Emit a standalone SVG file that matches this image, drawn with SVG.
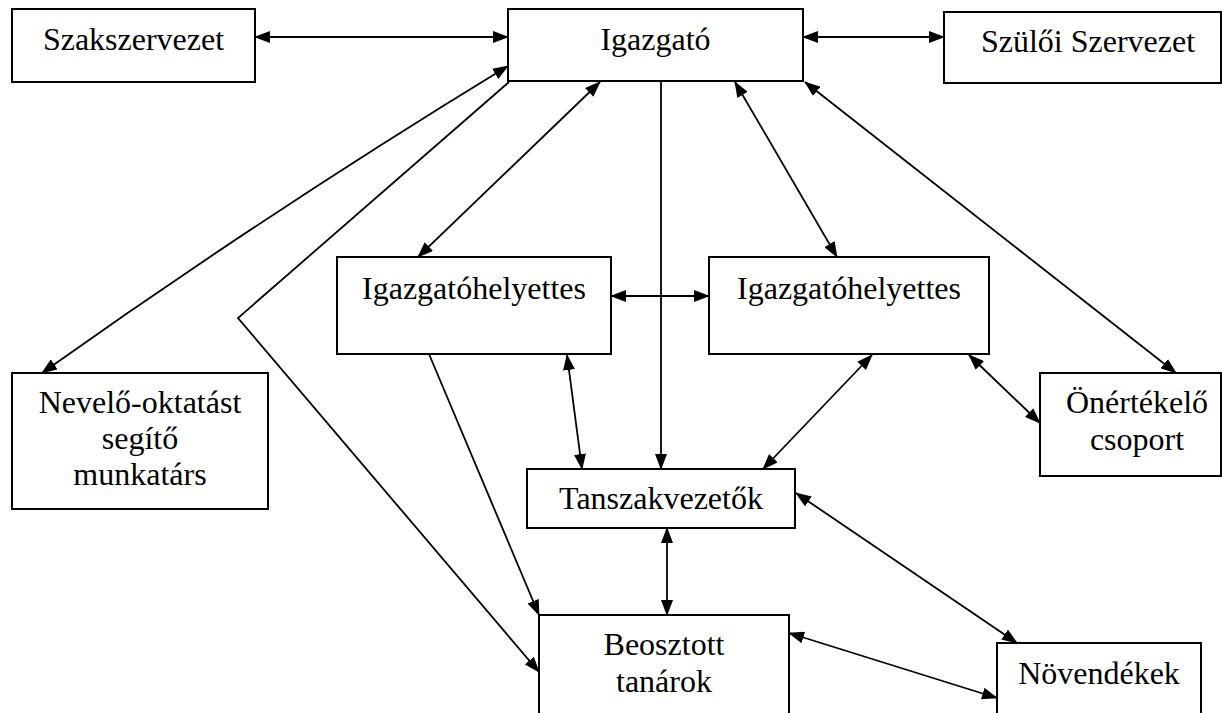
<svg xmlns="http://www.w3.org/2000/svg" width="1222" height="713" viewBox="0 0 1222 713">
<style>
.box{fill:#fff;stroke:#000;stroke-width:2}
text{font-family:'Liberation Serif','Times New Roman',Times,'DejaVu Serif',serif;font-size:32px;fill:#000;text-anchor:middle}
.c{fill:none;stroke:#000;stroke-width:1.8}
.b{marker-start:url(#ah);marker-end:url(#ah)}
.e{marker-end:url(#ah)}
</style>
<defs>
<marker id="ah" viewBox="0 0 16 12" refX="15" refY="6" markerWidth="16" markerHeight="12" markerUnits="userSpaceOnUse" orient="auto-start-reverse">
<path d="M0,0 L16,6 L0,12 z" fill="#000"/>
</marker>
</defs>
<rect width="1222" height="713" fill="#fff"/>
<g id="n-szakszervezet"><rect class="box" x="12" y="9" width="243" height="73"/><text x="133.5" y="50" font-family="Liberation Serif, serif">Szakszervezet</text></g>
<g id="n-igazgato"><rect class="box" x="508" y="9" width="295" height="72"/><text x="655.5" y="50">Igazgató</text></g>
<g id="n-szuloi"><rect class="box" x="944" y="12" width="277" height="71"/><text x="1088" y="52">Szülői Szervezet</text></g>
<g id="n-nevelo"><rect class="box" x="12" y="373" width="256" height="136"/><text x="140" y="413">Nevelő-oktatást</text><text x="140" y="449">segítő</text><text x="140" y="485">munkatárs</text></g>
<g id="n-ih1"><rect class="box" x="337" y="257" width="274" height="97"/><text x="474" y="299">Igazgatóhelyettes</text></g>
<g id="n-ih2"><rect class="box" x="709" y="257" width="280" height="97"/><text x="849" y="299">Igazgatóhelyettes</text></g>
<g id="n-onertekelo"><rect class="box" x="1040" y="373" width="181" height="103"/><text x="1137" y="413">Önértékelő</text><text x="1137" y="450">csoport</text></g>
<g id="n-tanszak"><rect class="box" x="527" y="469" width="268" height="59"/><text x="661" y="509">Tanszakvezetők</text></g>
<g id="n-beosztott"><rect class="box" x="539" y="615" width="250" height="110"/><text x="664" y="655">Beosztott</text><text x="664" y="692">tanárok</text></g>
<g id="n-novendekek"><rect class="box" x="997" y="643" width="204" height="82"/><text x="1099" y="684">Növendékek</text></g>
<g id="connectors">
<line class="c b" x1="255" y1="37" x2="508" y2="37"/>
<line class="c b" x1="803" y1="37" x2="944" y2="37"/>
<path class="c b" d="M42,373 Q270,211 508,66"/>
<polyline class="c e" points="509,82 238,318 539,672"/>
<line class="c b" x1="600" y1="82" x2="418" y2="257"/>
<line class="c e" x1="661" y1="81" x2="661" y2="469"/>
<line class="c b" x1="735" y1="82" x2="837" y2="257"/>
<line class="c b" x1="805" y1="82" x2="1176" y2="373"/>
<line class="c b" x1="611" y1="296" x2="709" y2="296"/>
<line class="c e" x1="429" y1="354" x2="539" y2="615"/>
<line class="c b" x1="567" y1="355" x2="582" y2="469"/>
<line class="c b" x1="872" y1="355" x2="763" y2="469"/>
<line class="c b" x1="969" y1="355" x2="1040" y2="423"/>
<line class="c b" x1="667" y1="528" x2="667" y2="615"/>
<line class="c b" x1="796" y1="493" x2="1017" y2="643"/>
<line class="c b" x1="789" y1="633" x2="997" y2="698"/>
</g>
</svg>
